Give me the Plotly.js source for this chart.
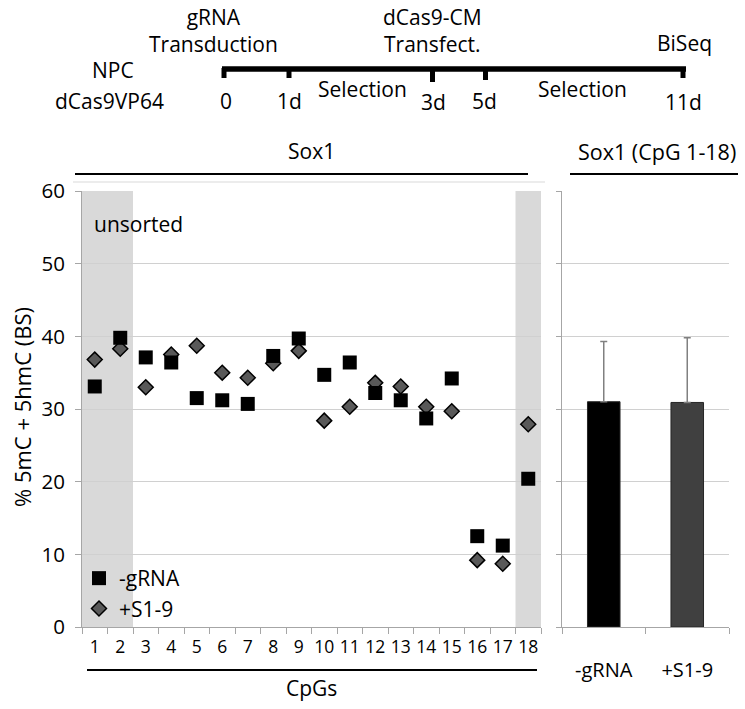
<!DOCTYPE html>
<html>
<head>
<meta charset="utf-8">
<script src="https://cdn.plot.ly/plotly-3.0.1.min.js"></script>
<style>html,body{margin:0;padding:0;background:#fff}#chart{width:745px;height:709px}</style>
</head>
<body>
<div id="chart"></div>
<script>
// ---- data ----
const cpgs = ['1','2','3','4','5','6','7','8','9','10','11','12','13','14','15','16','17','18'];
const noGRNA = [33.1, 39.8, 37.1, 36.4, 31.5, 31.2, 30.7, 37.3, 39.7, 34.7, 36.4, 32.2, 31.2, 28.7, 34.2, 12.5, 11.2, 20.4];
const s19    = [36.8, 38.3, 33.0, 37.5, 38.7, 35.0, 34.3, 36.3, 38.0, 28.4, 30.3, 33.6, 33.1, 30.3, 29.7, 9.2, 8.7, 27.9];
const seriesNames = ['-gRNA', '+S1-9'];
const barLabels = ['-gRNA', '+S1-9'];
const barMeans = [31.0, 30.9];
const barErrPlus = [8.3, 8.9];
const yTicks = [0, 10, 20, 30, 40, 50, 60];
const shadedCpGs = [['1','2'], ['18']];

// ---- helpers (pixel -> paper) ----
const W = 745, H = 709;
const X = px => px / W;
const Y = py => 1 - py / H;
const FONT = 'Open Sans, sans-serif';

const traces = [
  {
    type: 'scatter', mode: 'markers', x: cpgs, y: s19, name: seriesNames[1],
    legendrank: 2, xaxis: 'x', yaxis: 'y',
    marker: {symbol: 'diamond', size: 11.5, color: '#595959', line: {color: '#000', width: 1.5}}
  },
  {
    type: 'scatter', mode: 'markers', x: cpgs, y: noGRNA, name: seriesNames[0],
    legendrank: 1, xaxis: 'x', yaxis: 'y',
    marker: {symbol: 'square', size: 14, color: '#000', line: {width: 0}}
  },
  {
    type: 'bar', x: barLabels, y: barMeans, xaxis: 'x2', yaxis: 'y2', showlegend: false,
    width: 0.39,
    marker: {color: ['#000000', '#404040'], line: {color: '#262626', width: 1}},
    error_y: {type: 'data', symmetric: false, array: barErrPlus, arrayminus: [0, 0],
              color: '#808080', thickness: 1.5, width: 3.5}
  }
];

const yDom = [Y(627), Y(191)];
const axColor = '#a6a6a6';
const gridColor = '#d0d0d0';

const shapes = [];
shadedCpGs.forEach(group => {
  const i0 = cpgs.indexOf(group[0]);
  const i1 = cpgs.indexOf(group[group.length - 1]);
  shapes.push({type: 'rect', xref: 'x', yref: 'y', x0: i0 - 0.5, x1: i1 + 0.5, y0: 0, y1: 60,
               fillcolor: '#d9d9d9', line: {width: 0}, layer: 'below'});
});
const pline = (x0, x1, y0, y1, w, c) => ({type: 'line', xref: 'paper', yref: 'paper',
  x0: X(x0), x1: X(x1), y0: Y(y0), y1: Y(y1), line: {color: c || '#000', width: w}});
shapes.push(pline(75, 528, 174, 174, 2.2));
shapes.push(pline(570, 738, 174, 174, 2.2));
shapes.push(pline(87, 537, 670, 670, 2.2));
shapes.push(pline(73, 545, 182, 182, 1, '#d9d9d9'));
// timeline schematic
shapes.push(pline(222, 686, 69, 69, 5.5));
[[224, 78], [289, 78], [432.5, 82], [485.5, 80], [683, 78]].forEach(t => {
  shapes.push(pline(t[0], t[0], 68, t[1], 5));
});

const ann = (text, x, y, size, extra) => Object.assign({
  text: text, xref: 'paper', yref: 'paper', x: X(x), y: Y(y), showarrow: false,
  xanchor: 'center', yanchor: 'middle', font: {family: FONT, size: size, color: '#000'}
}, extra || {});
const TS = 21;
const annotations = [
  ann('gRNA<br>Transduction', 213, 30.5, TS),
  ann('dCas9-CM<br>Transfect.', 432, 30.5, TS),
  ann('BiSeq', 684, 43, TS), ann('NPC', 113, 70, TS), ann('dCas9VP64', 109, 101, TS),
  ann('0', 226, 101, TS), ann('1d', 289, 101, TS), ann('Selection', 362, 89, TS),
  ann('3d', 433, 102, TS), ann('5d', 485, 101, TS), ann('Selection', 582, 89, TS),
  ann('11d', 683, 102, TS),
  ann('Sox1', 311, 151, 21), ann('Sox1 (CpG 1-18)', 657, 151, 21.5),
  ann('unsorted', 92, 224, 21, {xanchor: 'left'}),
  ann('CpGs', 311, 688, 21),
  ann('% 5mC + 5hmC (BS)', 22, 407, 22, {textangle: -90})
];

const layout = {
  width: W, height: H,
  margin: {l: 0, r: 0, t: 0, b: 0, pad: 0},
  paper_bgcolor: '#fff', plot_bgcolor: 'rgba(0,0,0,0)',
  font: {family: FONT, color: '#000'},
  showlegend: true,
  legend: {x: X(79), y: Y(558), xanchor: 'left', yanchor: 'top', bgcolor: 'rgba(0,0,0,0)',
           font: {family: FONT, size: 21, color: '#000'}, tracegroupgap: 0, itemwidth: 30},
  xaxis: {domain: [X(82), X(541)], anchor: 'y', type: 'category', categoryorder: 'array',
          categoryarray: cpgs, range: [-0.5, cpgs.length - 0.5], tickson: 'boundaries',
          ticks: 'outside', ticklen: 6, tickcolor: axColor, showline: true, linecolor: axColor,
          showgrid: false, zeroline: false, tickangle: 0,
          tickfont: {family: FONT, size: 17.5, color: '#000'},
          ticklabelstandoff: 4, fixedrange: true},
  yaxis: {domain: yDom, anchor: 'x', range: [0, 60], tickvals: yTicks, ticks: 'outside',
          ticklen: 6, tickcolor: axColor, showline: true, linecolor: axColor, gridcolor: gridColor,
          zeroline: false, tickfont: {family: FONT, size: 20.5, color: '#000'},
          ticklabelstandoff: 6, fixedrange: true},
  xaxis2: {domain: [X(562), X(729)], anchor: 'y2', type: 'category', categoryorder: 'array',
           categoryarray: barLabels, tickson: 'boundaries', ticks: 'outside', ticklen: 6,
           tickcolor: axColor, showline: true, linecolor: axColor, showgrid: false, zeroline: false,
           tickangle: 0, tickfont: {family: FONT, size: 20, color: '#000'},
           ticklabelstandoff: 25, fixedrange: true},
  yaxis2: {domain: yDom, anchor: 'x2', range: [0, 60], tickvals: yTicks, ticks: 'outside',
           ticklen: 5, tickcolor: axColor, showline: true, linecolor: axColor, gridcolor: gridColor,
           zeroline: false, showticklabels: false, fixedrange: true},
  shapes: shapes,
  annotations: annotations
};

Plotly.newPlot('chart', traces, layout, {displayModeBar: false, staticPlot: true});
</script>
</body>
</html>
